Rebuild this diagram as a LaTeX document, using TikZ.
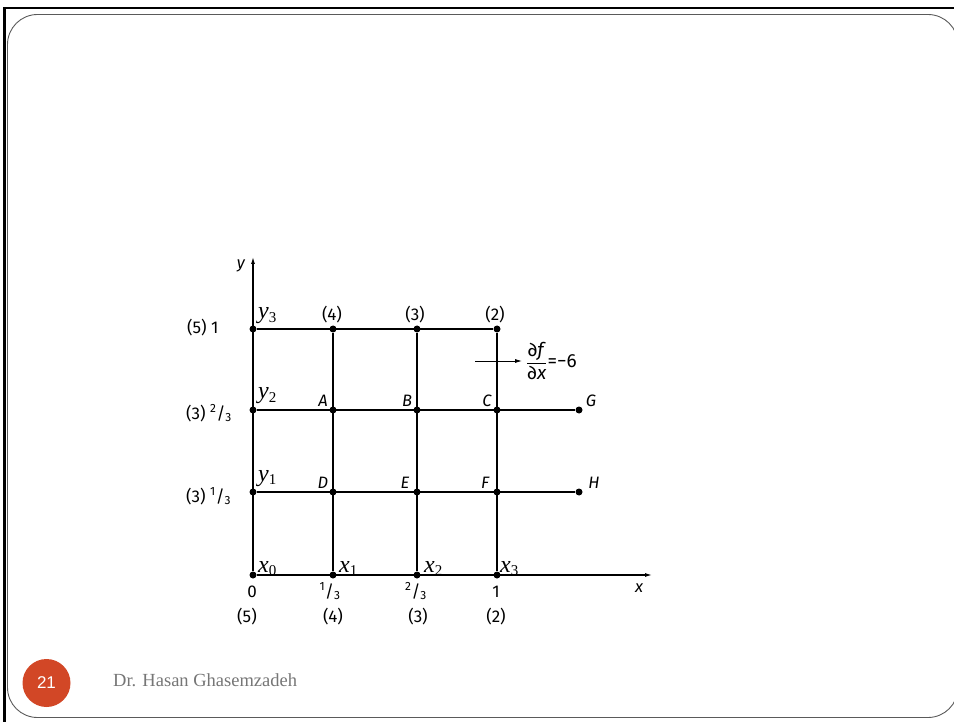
\documentclass[tikz,border=0pt]{standalone}
\usepackage{fontspec}
\setmainfont{Liberation Serif}
\setsansfont{Fira Sans}
\newfontfamily\arialfont{Liberation Sans}
\usetikzlibrary{arrows.meta}
\definecolor{slideorange}{HTML}{D24726}
\definecolor{footgray}{HTML}{767676}
\definecolor{framegray}{HTML}{5A5A5A}
\newcommand{\gridvar}[2]{{\fontsize{24}{24}\selectfont\itshape #1\raisebox{-0.3ex}{\fontsize{15}{15}\selectfont\upshape #2}}}
\newcommand{\third}[1]{\textsuperscript{#1}/\textsubscript{3}}

\begin{document}
\begin{tikzpicture}[x=1pt, y=-1pt, >={Latex[length=7pt,width=4pt]},
  dot/.style={circle, fill, inner sep=0pt, minimum size=7pt},
  lab/.style={font=\sffamily\fontsize{17}{17}\selectfont, inner sep=0pt, anchor=base},
  pt/.style={font=\sffamily\itshape\fontsize{16.5}{16.5}\selectfont, inner sep=0pt},
  var/.style={inner sep=0pt, anchor=base west},
  grid line/.style={line width=1.1pt}]
  \useasboundingbox (0,0) rectangle (954,722);
  % slide frame
  \draw[line width=2.5pt] (4.5,730) -- (4.5,8) -- (960,8);
  \draw[framegray, line width=0.9pt, rounded corners=30pt] (7.5,14.5) rectangle (958,717.5);
  % grid points
  \node[dot] (x0) at (253,575) {};
  \node[dot] (x1) at (333,575) {};
  \node[dot] (x2) at (417,575) {};
  \node[dot] (x3) at (497,575) {};
  \node[dot] (y1) at (253,492) {};
  \node[dot] (D) at (333,492) {};
  \node[dot] (E) at (417,492) {};
  \node[dot] (F) at (497,492) {};
  \node[dot] (H) at (579,492) {};
  \node[dot] (y2) at (253,410) {};
  \node[dot] (A) at (333,410) {};
  \node[dot] (B) at (417,410) {};
  \node[dot] (C) at (497,410) {};
  \node[dot] (G) at (579,410) {};
  \node[dot] (y3) at (253,329) {};
  \node[dot] (t1) at (333,329) {};
  \node[dot] (t2) at (417,329) {};
  \node[dot] (t3) at (497,329) {};
  \coordinate (xend) at (652,575);
  \coordinate (yend) at (253,257);
  % axes and grid lines
  \draw[grid line, ->] (x0) -- (xend);
  \draw[grid line, ->] (x0) -- (yend);
  \draw[grid line] (y3) -- (t3);
  \draw[grid line] (y2) -- (G);
  \draw[grid line] (y1) -- (H);
  \foreach \i in {1,2,3}
    \draw[grid line] (t\i) -- (x\i);
  % axis names
  \node[pt] (ylab) at (241,266) {y};
  \node[pt] (xlab) at (639,588) {x};
  % variable names
  \node[var] (y3name) at (258,319) {\gridvar{y}{3}};
  \node[var] (y2name) at (258,399) {\gridvar{y}{2}};
  \node[var] (y1name) at (258,481) {\gridvar{y}{1}};
  \node[var] (x0name) at (258,572) {\gridvar{x}{0}};
  \node[var] (x1name) at (339,572) {\gridvar{x}{1}};
  \node[var] (x2name) at (424,572) {\gridvar{x}{2}};
  \node[var] (x3name) at (500,572) {\gridvar{x}{3}};
  % point names
  \node[pt] (Aname) at (323,401) {A};
  \node[pt] (Bname) at (407,401) {B};
  \node[pt] (Cname) at (487,401) {C};
  \node[pt] (Gname) at (591,401) {G};
  \node[pt] (Dname) at (323,483) {D};
  \node[pt] (Ename) at (405,483) {E};
  \node[pt] (Fname) at (485,483) {F};
  \node[pt] (Hname) at (594,483) {H};
  % top row values
  \node[lab] (top1) at (332,321) {(4)};
  \node[lab] (top2) at (415,321) {(3)};
  \node[lab] (top3) at (495,321) {(2)};
  % left values
  \node[lab, anchor=base west] (left3) at (187,334) {(5) 1};
  \node[lab, anchor=base west] (left2) at (186,419) {(3) \third{2}};
  \node[lab, anchor=base west] (left1) at (186,502) {(3) \third{1}};
  % bottom values
  \node[lab] (bot0) at (252,597) {0};
  \node[lab] (bot1) at (330,597) {\third{1}};
  \node[lab] (bot2) at (416,597) {\third{2}};
  \node[lab] (bot3) at (496,597) {1};
  \node[lab] (low0) at (247,622) {(5)};
  \node[lab] (low1) at (333,622) {(4)};
  \node[lab] (low2) at (418,622) {(3)};
  \node[lab] (low3) at (496,622) {(2)};
  % derivative
  \coordinate (arrS) at (475,361);
  \node[font=\sffamily\fontsize{19}{19}\selectfont, inner sep=0pt, anchor=west] (dfdx) at (526,361)
    {$\displaystyle\frac{\mbox{∂\textit{f}}}{\mbox{∂\textit{x}}}$=−6};
  \draw[line width=0.8pt, ->, shorten >=4pt] (arrS) -- (dfdx);
  % footer
  \node[circle, fill=slideorange, minimum size=48pt, inner sep=0pt, text=white,
    font=\arialfont\fontsize{17}{17}\selectfont] (pagenum) at (46.5,683) {21};
  \node[text=footgray, font=\fontsize{18.5}{18.5}\selectfont, anchor=base west, inner sep=0pt]
    (author) at (113,686) {Dr. Hasan Ghasemzadeh};
\end{tikzpicture}
\end{document}
